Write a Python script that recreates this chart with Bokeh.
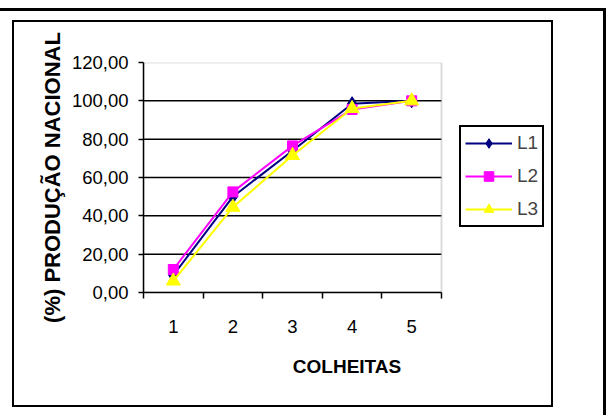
from bokeh.plotting import figure
from bokeh.models import Range1d, FixedTicker, Legend, LegendItem, BoxAnnotation
from bokeh.embed import file_html
from bokeh.resources import INLINE

# ---- data ----
colheitas = [1, 2, 3, 4, 5]
L1 = [9.0, 50.0, 74.0, 98.5, 100.0]
L2 = [12.0, 52.5, 76.5, 95.5, 100.0]
L3 = [6.0, 44.5, 71.5, 96.0, 100.0]
series_names = ["L1", "L2", "L3"]
y_ticks = [0, 20, 40, 60, 80, 100, 120]
y_tick_labels = ["0,00", "20,00", "40,00", "60,00", "80,00", "100,00", "120,00"]
x_tick_labels = ["1", "2", "3", "4", "5"]
x_title = "COLHEITAS"
y_title = "(%) PRODUÇÃO NACIONAL"

FONT = "Liberation Sans"

# layout (pixels): plot area x 143..441, y 62..292; the frame is widened to 550
# so that the legend (which sits to the right of the plot area) is not clipped
W, H = 606, 415
FL, FR, FT, FB = 143, 550, 62, 292
AREA_W = 298
x_lo = colheitas[0] - 0.5
x_hi_area = colheitas[-1] + 0.5
x_hi = x_lo + (x_hi_area - x_lo) * (FR - FL) / AREA_W
y_lo, y_hi = y_ticks[0], y_ticks[-1]

# page frame lines (top/right rule and the chart-area box) as CSS background
lines = [
    (0, 8, 606, 3), (603, 8, 3, 407),
    (12, 20, 541, 2), (12, 405, 541, 2), (12, 20, 2, 387), (551, 20, 2, 387),
]
bg = ", ".join(f"linear-gradient(#000,#000) {x}px {y}px / {w}px {h}px no-repeat"
               for x, y, w, h in lines) + ", #ffffff"

p = figure(width=W, height=H, output_backend="svg", toolbar_location=None,
           x_range=Range1d(x_lo, x_hi), y_range=Range1d(y_lo, y_hi),
           min_border_left=FL, min_border_right=W - FR,
           min_border_top=FT, min_border_bottom=H - FB)
p.background_fill_color = "white"
p.border_fill_alpha = 0
p.outline_line_color = None
p.styles = {"background": bg}

# grid: black horizontal lines limited to the plot area, grey plot-area frame
p.xgrid.visible = False
p.ygrid.visible = False
inner_ticks = y_ticks[1:-1]
p.segment(x0=[x_lo] * len(inner_ticks), x1=[x_hi_area] * len(inner_ticks),
          y0=inner_ticks, y1=inner_ticks, line_color="black", line_width=1.5,
          level="underlay")
p.add_layout(BoxAnnotation(left=x_lo, right=x_hi_area, bottom=y_lo, top=y_hi,
                           fill_alpha=0, line_color="#8c8c8c", line_width=2,
                           level="underlay"))

# y axis
ya = p.yaxis[0]
ya.ticker = FixedTicker(ticks=y_ticks)
ya.major_label_overrides = {t: s for t, s in zip(y_ticks, y_tick_labels)}
ya.major_tick_out = 5
ya.major_tick_in = 0
ya.minor_tick_line_color = None
ya.axis_line_width = 1.5
ya.major_tick_line_width = 1.5
ya.axis_line_color = "black"
ya.major_tick_line_color = "black"
ya.major_label_text_font = FONT
ya.major_label_text_font_size = "18.5px"
ya.major_label_text_color = "black"
ya.major_label_standoff = 10
ya.axis_label = y_title
ya.axis_label_text_font = FONT
ya.axis_label_text_font_style = "bold"
ya.axis_label_text_font_size = "22px"
ya.axis_label_text_color = "black"
ya.axis_label_standoff = 4

# x axis
xa = p.xaxis[0]
xa.bounds = (x_lo, x_hi_area)
xa.ticker = FixedTicker(ticks=colheitas,
                        minor_ticks=[c - 0.5 for c in colheitas] + [colheitas[-1] + 0.5])
xa.major_label_overrides = {c: s for c, s in zip(colheitas, x_tick_labels)}
xa.major_tick_line_color = None
xa.major_tick_out = 6
xa.minor_tick_out = 6
xa.minor_tick_in = 0
xa.minor_tick_line_color = "black"
xa.minor_tick_line_width = 1.5
xa.axis_line_width = 1.5
xa.axis_line_color = "black"
xa.major_label_text_font = FONT
xa.major_label_text_font_size = "18.5px"
xa.major_label_text_color = "black"
xa.major_label_standoff = 21
xa.axis_label = x_title
xa.axis_label_text_font = FONT
xa.axis_label_text_font_style = "bold"
xa.axis_label_text_font_size = "19px"
xa.axis_label_text_color = "black"
xa.axis_label_standoff = 20

# series
colors = ["#000080", "#FF00FF", "#FFFF00"]
items = []
for name, ys, col, mk, sz in zip(series_names, [L1, L2, L3], colors,
                                 ["diamond", "square", "triangle"], [14, 10, 14]):
    r_line = p.line(colheitas, ys, line_color=col, line_width=2)
    r_pts = p.scatter(colheitas, ys, marker=mk, size=sz, fill_color=col, line_color=col)
    items.append(LegendItem(label=name, renderers=[r_line, r_pts]))

legend = Legend(items=items, location=(316, 65))
legend.border_line_color = "black"
legend.border_line_alpha = 1
legend.border_line_width = 2
legend.background_fill_color = "white"
legend.background_fill_alpha = 1
legend.label_text_font = FONT
legend.label_text_font_size = "19px"
legend.glyph_width = 47
legend.glyph_height = 24
legend.label_height = 24
legend.spacing = 9
legend.padding = 4
legend.margin = 0
legend.label_standoff = 5
p.add_layout(legend)

open("out.html", "w").write(file_html(p, INLINE))
